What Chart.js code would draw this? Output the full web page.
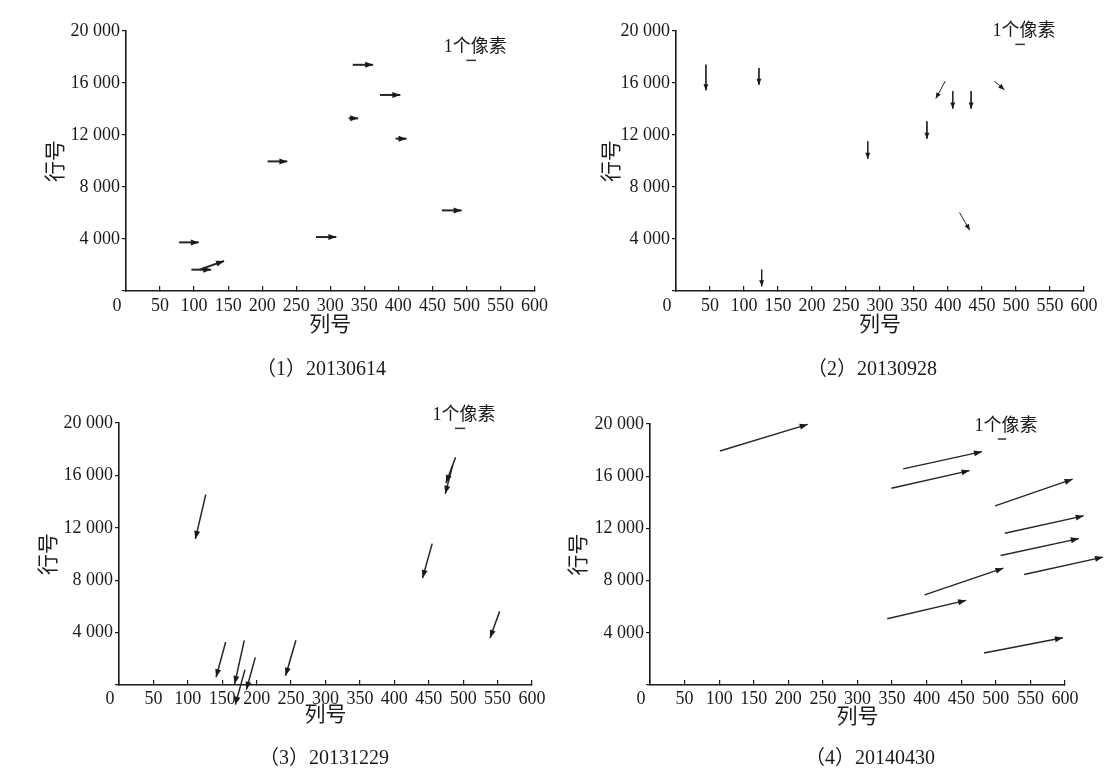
<!DOCTYPE html>
<html>
<head>
<meta charset="utf-8">
<script src="https://cdn.jsdelivr.net/npm/chart.js@4"></script>
<style>
  body { margin: 0; background: #fff; }
  #page { position: relative; width: 1114px; height: 777px; overflow: hidden; background: #fff; }
  #page canvas { position: absolute; }
  .cap { position: absolute; transform: translate(-50%, -50%); white-space: nowrap;
         font: 20px "Liberation Serif", "Noto Sans CJK SC"; color: #1a1a1a; }
</style>
</head>
<body>
<div id="page">
  <canvas id="c1" width="557" height="385" style="left:0;top:0"></canvas>
  <canvas id="c2" width="557" height="385" style="left:557px;top:0"></canvas>
  <canvas id="c3" width="557" height="387" style="left:0;top:390px"></canvas>
  <canvas id="c4" width="557" height="387" style="left:557px;top:390px"></canvas>
</div>
<script>
// axis ticks
const xTickValues = [0, 50, 100, 150, 200, 250, 300, 350, 400, 450, 500, 550, 600];
const yTickValues = [0, 4000, 8000, 12000, 16000, 20000];
const captions = ['（1）20130614', '（2）20130928', '（3）20131229', '（4）20140430'];
const scaleLabel = '1个像素';

// displacement arrows: [start col, start row, end col, end row]
const arrows1 = [
  [333, 17400, 363, 17400],
  [373, 15080, 403, 15080],
  [327, 13280, 341, 13280],
  [396, 11720, 412, 11720],
  [208, 9970, 237, 9970],
  [464, 6200, 493, 6200],
  [279, 4150, 309, 4150],
  [78, 3740, 107, 3740],
  [96, 1640, 125, 1640],
  [108, 1640, 144, 2310]
];
const arrows2 = [
  [44, 17410, 44, 15440],
  [122, 17150, 122, 15870],
  [126, 1640, 126, 360],
  [282, 11510, 282, 10180],
  [369, 13050, 369, 11720],
  [396, 16150, 382, 14800],
  [407, 15380, 407, 14030],
  [434, 15380, 434, 14030],
  [468, 16150, 483, 15490],
  [417, 6030, 432, 4670]
];
const arrows3 = [
  [126, 14530, 111, 11150],
  [489, 17380, 475, 15420],
  [485, 16820, 474, 14600],
  [455, 10790, 441, 8170],
  [553, 5620, 539, 3590],
  [155, 3280, 141, 590],
  [182, 3410, 168, 80],
  [183, 1170, 169, -1500],
  [198, 2110, 185, -360],
  [257, 3410, 242, 710]
];
const arrows4 = [
  [101, 17930, 228, 19970],
  [366, 16560, 480, 17880],
  [349, 15080, 462, 16430],
  [499, 13730, 611, 15770],
  [513, 11630, 627, 12960],
  [507, 9920, 620, 11220],
  [541, 8470, 655, 9800],
  [397, 6910, 511, 8950],
  [343, 5080, 457, 6480],
  [483, 2450, 597, 3620]
];
// "1 pixel" scale bar in each panel
const scaleBars = [
  [500, 17740, 514, 17740],
  [499, 18970, 513, 18970],
  [488, 19590, 503, 19590],
  [503, 18850, 515, 18850]
];

const INK = '#1a1a1a';
const SERIF = '"Liberation Serif", "Noto Sans CJK SC"';
const CJK = '"Noto Sans CJK SC"';

const panels = [
  { id: 'c1', arrows: arrows1, pad: { left: 41, top: 31, right: 19, bottom: 49 }, yW: 85, xH: 45, tickPad: 9, lw: 2, head: [8, 3], cap: [321, 366] },
  { id: 'c2', arrows: arrows2, pad: { left: 40, top: 31, right: 30, bottom: 49 }, yW: 79, xH: 45, tickPad: 9, lw: 1, head: [6, 2.5], cap: [872, 366] },
  { id: 'c3', arrows: arrows3, pad: { left: 34, top: 33, right: 25, bottom: 51 }, yW: 85, xH: 41, tickPad: 8, lw: 1.5, head: [8, 3], cap: [324, 755] },
  { id: 'c4', arrows: arrows4, pad: { left: 7, top: 34, right: 49, bottom: 49 }, yW: 86, xH: 43, tickPad: 8, lw: 1.4, head: [8, 3], cap: [870, 755] }
];

const arrowHeads = {
  id: 'arrowHeads',
  afterDatasetsDraw(chart, args, opts) {
    const ctx = chart.ctx;
    chart.data.datasets.forEach((ds, i) => {
      const pts = chart.getDatasetMeta(i).data;
      const a = pts[0], b = pts[1];
      ctx.save();
      if (ds.label === 'scale') {
        ctx.font = '18px ' + SERIF;
        ctx.fillStyle = INK;
        ctx.textAlign = 'center';
        ctx.textBaseline = 'middle';
        ctx.fillText(scaleLabel, (a.x + b.x) / 2 + 4, a.y - 13);
      } else {
        const ang = Math.atan2(b.y - a.y, b.x - a.x);
        const [L, W] = opts.size;
        const c = Math.cos(ang), s = Math.sin(ang);
        ctx.fillStyle = INK;
        ctx.beginPath();
        ctx.moveTo(b.x, b.y);
        ctx.lineTo(b.x - L * c + W * s, b.y - L * s - W * c);
        ctx.lineTo(b.x - L * c - W * s, b.y - L * s + W * c);
        ctx.closePath();
        ctx.fill();
      }
      ctx.restore();
    });
  }
};

panels.forEach((p, k) => {
  const datasets = p.arrows.map(r => ({
    label: 'arrow',
    data: [{ x: r[0], y: r[1] }, { x: r[2], y: r[3] }],
    showLine: true,
    borderColor: '#262626',
    borderWidth: p.lw,
    pointRadius: 0,
    clip: false
  }));
  const bar = scaleBars[k];
  datasets.push({
    label: 'scale',
    data: [{ x: bar[0], y: bar[1] }, { x: bar[2], y: bar[3] }],
    showLine: true,
    borderColor: '#333',
    borderWidth: 1.5,
    pointRadius: 0,
    clip: false
  });

  new Chart(document.getElementById(p.id), {
    type: 'scatter',
    data: { datasets },
    plugins: [arrowHeads],
    options: {
      responsive: false,
      animation: false,
      events: [],
      layout: { padding: p.pad },
      plugins: {
        legend: { display: false },
        tooltip: { enabled: false },
        arrowHeads: { size: p.head }
      },
      scales: {
        x: {
          type: 'linear',
          min: 0,
          max: 600,
          afterBuildTicks: s => { s.ticks = xTickValues.map(v => ({ value: v })); },
          afterFit: s => { s.height = p.xH; },
          grid: { drawOnChartArea: false, tickLength: -5, color: INK, lineWidth: 1.2 },
          border: { color: INK, width: 1.6 },
          ticks: { autoSkip: false, maxRotation: 0, padding: p.tickPad, color: INK,
                   font: { family: SERIF, size: 18 },
                   // the origin "0" sits a little left of the corner in the original
                   callback: v => v === 0 ? '0\u2003' : String(v) },
          title: { display: true, text: '列号', color: INK, padding: 0,
                   font: { family: CJK, size: 21 } }
        },
        y: {
          type: 'linear',
          min: 0,
          max: 20000,
          afterBuildTicks: s => { s.ticks = yTickValues.map(v => ({ value: v })); },
          afterFit: s => { s.width = p.yW; },
          grid: { drawOnChartArea: false, tickLength: 4, color: INK, lineWidth: 1.2 },
          border: { color: INK, width: 1.6 },
          ticks: { padding: 2, color: INK, font: { family: SERIF, size: 18 },
                   callback: v => v === 0 ? '' : (v / 1000) + ' 000' },
          title: { display: true, text: '行号', color: INK, padding: 0,
                   font: { family: CJK, size: 21 } }
        }
      }
    }
  });

  const cap = document.createElement('div');
  cap.className = 'cap';
  cap.textContent = captions[k];
  cap.style.left = p.cap[0] + 'px';
  cap.style.top = p.cap[1] + 'px';
  document.getElementById('page').appendChild(cap);
});
</script>
</body>
</html>
